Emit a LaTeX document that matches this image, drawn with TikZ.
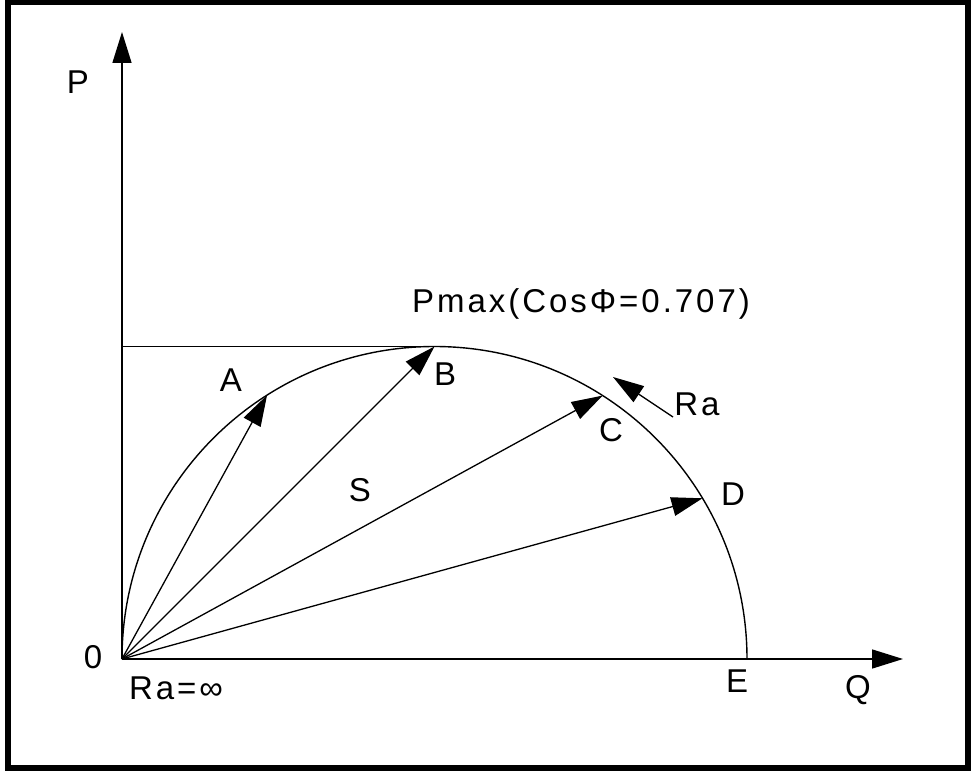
\documentclass[tikz,border=0pt]{standalone}
\usepackage{fontspec}
\setmainfont{Liberation Sans}
\usetikzlibrary{arrows.meta}

\begin{document}
\begin{tikzpicture}[
    x=0.5pt,y=0.5pt,
    >={Triangle[length=15.5pt,width=9.5pt]},
    ax/.style ={->,line width=0.75pt},
    vec/.style={->,line width=0.65pt},
    crv/.style={line width=0.7pt},
    lbl/.style={font=\fontsize{16.5}{19}\selectfont\addfontfeature{LetterSpace=9},inner sep=0pt},
  ]

  % ---------- FRAME ----------
  \useasboundingbox (-122,-112) rectangle (851,659);
  \draw[line width=3pt] (-114,-109) rectangle (846,657);

  % ---------- AXES ----------
  \coordinate (O)    at (0,0);
  \coordinate (Ptip) at (0,627);
  \coordinate (Qtip) at (781,0);
  \draw[ax] (O) -- (Ptip);
  \draw[ax] (O) -- (Qtip);

  % ---------- CIRCLE ----------
  \coordinate (M) at (312.5,0);
  \coordinate (E) at (625,0);
  \draw[crv] (E) arc[start angle=0,end angle=180,radius=312.5];
  \path (M) ++(122.4:312.5) coordinate (A);
  \path (M) ++(90:312.5)    coordinate (B);
  \path (M) ++(57.45:312.5) coordinate (C);
  \path (M) ++(30.95:312.5) coordinate (D);

  % Pmax level
  \coordinate (Pm)  at (0,312.5);
  \coordinate (Pmr) at (322,312.5);
  \draw[crv] (Pm) -- (Pmr);

  % ---------- VECTORS ----------
  \foreach \p in {A,B,C,D}
    \draw[vec] (O) -- (\p);

  % Ra direction
  \coordinate (RaS) at (551,242);
  \coordinate (RaT) at (491,282);
  \draw[vec] (RaS) -- (RaT);

  % ---------- LABELS ----------
  \node[lbl] (labP)  at (-44,577)  {P};
  \node[lbl] (labQ)  at (736,-31)  {Q};
  \node[lbl] (labO)  at (-29,2)    {0};
  \node[lbl] (labRi) at (54,-29)   {Ra=∞};
  \node[lbl] (labE)  at (615,-22)  {E};
  \node[lbl] (labA)  at (109,279)  {A};
  \node[lbl] (labB)  at (323,285)  {B};
  \node[lbl] (labC)  at (489,229)  {C};
  \node[lbl] (labD)  at (611,165)  {D};
  \node[lbl] (labS)  at (238,169)  {S};
  \node[lbl] (labRa) at (575,255)  {Ra};
  \node[lbl] (labPm) at (459,355)  {Pmax(CosΦ=0.707)};

\end{tikzpicture}
\end{document}
